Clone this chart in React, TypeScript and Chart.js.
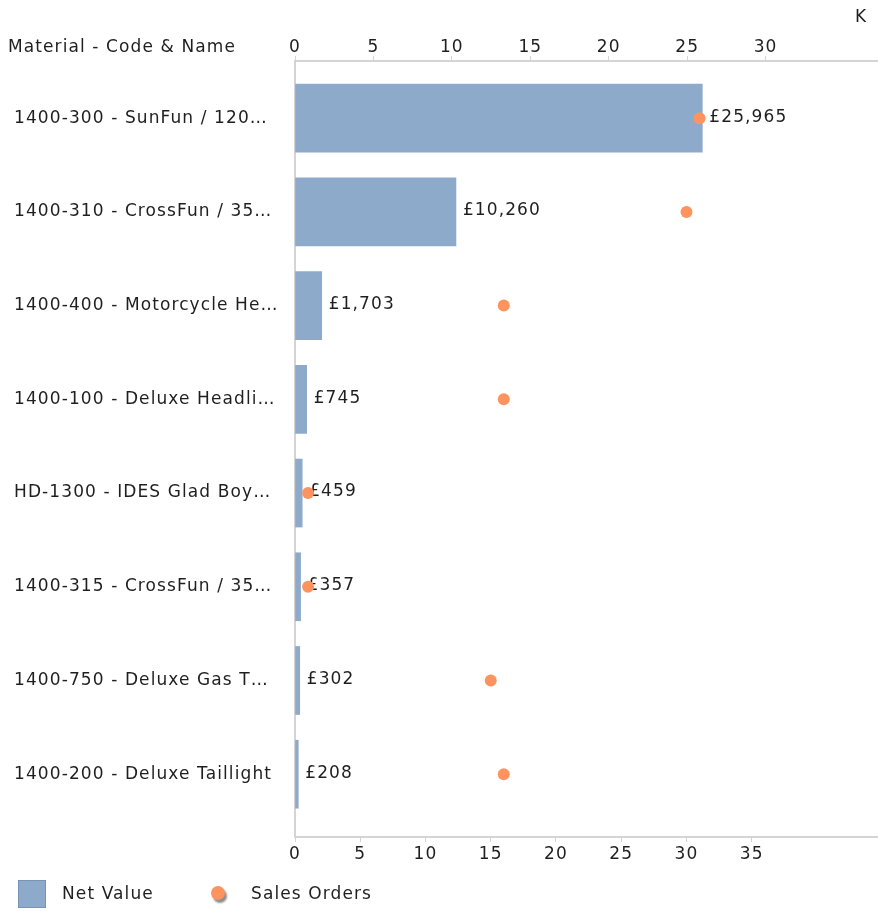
import React, { useEffect, useRef } from 'react';
import { Chart, registerables } from 'chart.js';

Chart.register(...registerables);

// ---- data ----
const categories = [
  '1400-300 - SunFun / 120…',
  '1400-310 - CrossFun / 35…',
  '1400-400 - Motorcycle He…',
  '1400-100 - Deluxe Headli…',
  'HD-1300 - IDES Glad Boy…',
  '1400-315 - CrossFun / 35…',
  '1400-750 - Deluxe Gas T…',
  '1400-200 - Deluxe Taillight',
];
const netValue = [25965, 10260, 1703, 745, 459, 357, 302, 208];
const salesOrders = [31, 30, 16, 16, 1, 1, 15, 16];
const netValueTicksK = [0, 5, 10, 15, 20, 25, 30];
const salesOrderTicks = [0, 5, 10, 15, 20, 25, 30, 35];
const categoryTitle = 'Material - Code & Name';
const unitLabel = 'K';
const seriesNames = ['Net Value', 'Sales Orders'];

// ---- styles ----
const FONT_FAMILY = "'DejaVu Sans', Verdana, sans-serif";
const FONT_SIZE = 17;
const TEXT_COLOR = '#1f1f1f';
const AXIS_COLOR = '#d4d4d4';
const BAR_COLOR = '#8eaacb';
const BAR_EDGE = '#7893b6';
const DOT_COLOR = '#fd9460';
const LETTER_SPACING = '1.1px';

const font = { family: FONT_FAMILY, size: FONT_SIZE };
const fontStr = `${FONT_SIZE}px ${FONT_FAMILY}`;

const setSpacing = (chart: any) => {
  try {
    (chart.ctx as any).letterSpacing = LETTER_SPACING;
  } catch (e) {}
};

const spacingPlugin = {
  id: 'spacing',
  beforeLayout: (chart: any) => setSpacing(chart),
  beforeDraw: (chart: any) => setSpacing(chart),
};

const valueLabelPlugin = {
  id: 'valueLabels',
  afterDatasetDraw(chart: any, args: any) {
    if (args.index !== 0) return;
    const ctx = chart.ctx;
    ctx.save();
    (ctx as any).letterSpacing = LETTER_SPACING;
    ctx.font = fontStr;
    ctx.fillStyle = TEXT_COLOR;
    ctx.textAlign = 'left';
    ctx.textBaseline = 'middle';
    args.meta.data.forEach((el: any, i: number) => {
      const txt = '£' + netValue[i].toLocaleString('en-GB');
      ctx.fillText(txt, el.x + 7, el.y - 1);
    });
    ctx.restore();
  },
};

const extrasPlugin = {
  id: 'extras',
  afterDraw(chart: any) {
    const ctx = chart.ctx;
    const area = chart.chartArea;
    ctx.save();
    (ctx as any).letterSpacing = LETTER_SPACING;
    ctx.font = fontStr;
    ctx.fillStyle = TEXT_COLOR;
    ctx.textBaseline = 'middle';
    // category axis title, top-left
    ctx.textAlign = 'left';
    ctx.fillText(categoryTitle, 8, 48);
    // unit label for top axis
    ctx.textAlign = 'center';
    ctx.fillText(unitLabel, area.right - 16, 18);

    // legend
    const ly = 893;
    ctx.fillStyle = BAR_COLOR;
    ctx.fillRect(18, ly - 13, 28, 28);
    ctx.strokeStyle = BAR_EDGE;
    ctx.lineWidth = 1;
    ctx.strokeRect(18.5, ly - 12.5, 27, 27);
    ctx.fillStyle = TEXT_COLOR;
    ctx.textAlign = 'left';
    ctx.fillText(seriesNames[0], 62, ly + 2);

    ctx.save();
    ctx.shadowColor = 'rgba(0,0,0,0.45)';
    ctx.shadowOffsetX = 2;
    ctx.shadowOffsetY = 3;
    ctx.shadowBlur = 2;
    ctx.beginPath();
    ctx.arc(218, ly, 7, 0, Math.PI * 2);
    ctx.fillStyle = DOT_COLOR;
    ctx.fill();
    ctx.restore();
    ctx.fillStyle = TEXT_COLOR;
    ctx.fillText(seriesNames[1], 251, ly + 2);
    ctx.restore();
  },
};

const noSidePadding = (s: any) => {
  s.paddingLeft = 0;
  s.paddingRight = 0;
};

export default function App() {
  const ref = useRef<HTMLCanvasElement | null>(null);

  useEffect(() => {
    if (!ref.current) return;
    const chart = new Chart(ref.current, {
      type: 'bar',
      data: {
        datasets: [
          {
            type: 'bar',
            label: seriesNames[0],
            data: netValue.map((v, i) => ({ x: v, y: i })),
            xAxisID: 'x',
            yAxisID: 'y',
            backgroundColor: BAR_COLOR,
            borderWidth: 0,
            barThickness: 68,
            order: 2,
          } as any,
          {
            type: 'scatter',
            label: seriesNames[1],
            data: salesOrders.map((v, i) => ({ x: v, y: i })),
            xAxisID: 'x2',
            yAxisID: 'y',
            backgroundColor: DOT_COLOR,
            borderWidth: 0,
            pointRadius: 6,
            pointHoverRadius: 6,
            showLine: false,
            clip: false,
            order: 1,
          } as any,
        ],
      },
      options: {
        indexAxis: 'y',
        animation: false,
        responsive: false,
        events: [],
        layout: { autoPadding: false, padding: { left: 14, right: 1, top: 0, bottom: 44 } },
        plugins: {
          legend: { display: false },
          tooltip: { enabled: false },
        },
        scales: {
          x: {
            type: 'linear',
            position: 'top',
            min: 0,
            max: 37100,
            offset: false,
            afterBuildTicks: (s: any) => {
              s.ticks = netValueTicksK.map((v) => ({ value: v * 1000 }));
            },
            afterFit: (s: any) => {
              s.height = 61;
              noSidePadding(s);
            },
            ticks: {
              callback: (v: any) => String(Number(v) / 1000),
              color: TEXT_COLOR,
              font,
              padding: -2,
              maxRotation: 0,
              autoSkip: false,
            },
            grid: {
              drawOnChartArea: false,
              drawTicks: true,
              tickLength: 5,
              color: AXIS_COLOR,
              lineWidth: 1,
            },
            border: { color: AXIS_COLOR, width: 2 },
          },
          x2: {
            type: 'linear',
            position: 'bottom',
            min: 0,
            max: 44.6,
            offset: false,
            afterBuildTicks: (s: any) => {
              s.ticks = salesOrderTicks.map((v) => ({ value: v }));
            },
            afterFit: (s: any) => {
              s.height = 30;
              noSidePadding(s);
            },
            ticks: {
              callback: (v: any) => String(v),
              color: TEXT_COLOR,
              font,
              padding: 2,
              maxRotation: 0,
              autoSkip: false,
            },
            grid: {
              drawOnChartArea: false,
              drawTicks: true,
              tickLength: 5,
              color: AXIS_COLOR,
              lineWidth: 1,
            },
            border: { color: AXIS_COLOR, width: 2 },
          },
          y: {
            type: 'linear',
            position: 'left',
            reverse: true,
            offset: false,
            min: -0.61,
            max: 7.67,
            afterBuildTicks: (s: any) => {
              s.ticks = categories.map((_, i) => ({ value: i }));
            },
            afterFit: (s: any) => {
              s.width = 281;
              s.paddingTop = 0;
              s.paddingBottom = 0;
            },
            ticks: {
              callback: (v: any) => categories[Number(v)] ?? '',
              color: TEXT_COLOR,
              font,
              crossAlign: 'far',
              autoSkip: false,
              padding: 6,
            },
            grid: { display: false },
            border: { color: AXIS_COLOR, width: 2 },
          },
        },
      } as any,
      plugins: [spacingPlugin, valueLabelPlugin, extrasPlugin],
    });
    return () => chart.destroy();
  }, []);

  return (
    <div style={{ position: 'absolute', left: 0, top: 0, width: 878, height: 911, background: '#fff' }}>
      <canvas ref={ref} width={878} height={911} style={{ display: 'block', width: 878, height: 911 }} />
    </div>
  );
}
